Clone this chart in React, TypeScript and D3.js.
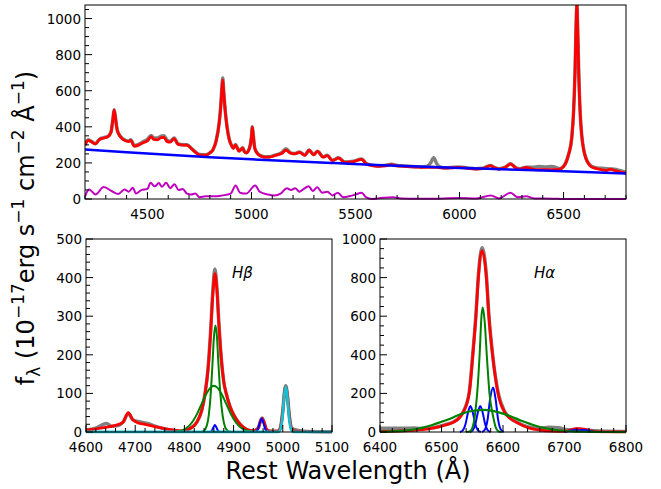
import React from 'react';
import * as d3 from 'd3';

type Pt = [number, number];

// ---- top panel: full spectrum (wavelength, flux) ----
const topObs: Pt[] = [
  [4200, 300], [4215, 328], [4230, 320], [4250, 306], [4270, 332], [4290, 340], [4310, 347], [4325, 372],
  [4335, 452], [4340, 495], [4345, 462], [4355, 382], [4370, 348], [4390, 328], [4410, 322], [4420, 328],
  [4437, 296], [4460, 304], [4480, 318], [4500, 330], [4518, 352], [4530, 338], [4548, 338], [4565, 348],
  [4579, 350], [4595, 325], [4609, 320], [4629, 338], [4645, 308], [4660, 302], [4690, 300], [4720, 272],
  [4750, 246], [4780, 244], [4800, 256], [4815, 273], [4830, 322], [4845, 425], [4852, 512], [4858, 620],
  [4862, 670], [4866, 606], [4874, 490], [4883, 398], [4893, 332], [4905, 296], [4913, 282], [4923, 302],
  [4932, 284], [4940, 266], [4950, 276], [4958, 284], [4966, 263], [4975, 256], [4990, 281], [5000, 346],
  [5004, 400], [5008, 362], [5016, 282], [5030, 252], [5044, 240], [5065, 234], [5085, 234], [5105, 240],
  [5125, 247], [5145, 256], [5166, 278], [5186, 258], [5206, 252], [5231, 260], [5257, 244], [5277, 272],
  [5298, 247], [5318, 265], [5344, 234], [5364, 242], [5389, 215], [5419, 228], [5449, 205], [5490, 209],
  [5530, 222], [5551, 197], [5580, 187], [5611, 183], [5640, 186], [5672, 192], [5700, 186], [5733, 183],
  [5770, 180], [5814, 178], [5840, 180], [5860, 198], [5876, 228], [5890, 196], [5910, 176], [5935, 173],
  [5965, 175], [5996, 177], [6040, 172], [6077, 168], [6110, 170], [6148, 186], [6170, 174], [6189, 168],
  [6220, 177], [6245, 195], [6270, 174], [6290, 168], [6320, 176], [6350, 176], [6381, 180], [6410, 178],
  [6442, 180], [6465, 174], [6482, 168], [6500, 182], [6512, 205], [6525, 252], [6539, 338], [6548, 485],
  [6555, 705], [6560, 955], [6564, 1080], [6568, 935], [6573, 698], [6580, 474], [6587, 357], [6597, 272],
  [6608, 225], [6620, 198], [6634, 181], [6660, 172], [6685, 170], [6705, 168], [6725, 166], [6745, 165],
  [6770, 158], [6800, 148],
];

const topModel: Pt[] = [
  [4200, 298], [4215, 325], [4230, 318], [4250, 305], [4270, 330], [4290, 338], [4310, 345], [4325, 370],
  [4335, 450], [4340, 492], [4345, 460], [4355, 380], [4370, 345], [4390, 325], [4410, 318], [4420, 325],
  [4437, 292], [4460, 300], [4480, 312], [4500, 322], [4518, 345], [4530, 330], [4548, 328], [4565, 340],
  [4579, 342], [4595, 318], [4609, 315], [4629, 335], [4645, 305], [4660, 300], [4690, 298], [4720, 270],
  [4750, 245], [4780, 243], [4800, 255], [4815, 272], [4830, 320], [4845, 420], [4852, 505], [4858, 610],
  [4862, 660], [4866, 600], [4874, 486], [4883, 395], [4893, 330], [4905, 295], [4913, 280], [4923, 300],
  [4932, 282], [4940, 265], [4950, 275], [4958, 282], [4966, 262], [4975, 255], [4990, 280], [5000, 345],
  [5004, 398], [5008, 360], [5016, 280], [5030, 250], [5044, 238], [5065, 232], [5085, 232], [5105, 238],
  [5125, 245], [5145, 252], [5166, 270], [5186, 255], [5206, 250], [5231, 258], [5257, 242], [5277, 270],
  [5298, 245], [5318, 264], [5344, 232], [5364, 240], [5389, 213], [5419, 226], [5449, 203], [5490, 207],
  [5530, 220], [5551, 195], [5580, 185], [5611, 181], [5640, 183], [5672, 190], [5700, 183], [5733, 181],
  [5770, 178], [5814, 176], [5840, 175], [5860, 176], [5876, 176], [5890, 175], [5910, 173], [5935, 171],
  [5965, 173], [5996, 175], [6040, 170], [6077, 166], [6110, 168], [6148, 185], [6170, 172], [6189, 166],
  [6220, 175], [6245, 194], [6270, 172], [6290, 166], [6320, 175], [6350, 166], [6381, 162], [6410, 163],
  [6442, 162], [6465, 163], [6482, 166], [6500, 180], [6512, 203], [6525, 250], [6539, 335], [6548, 480],
  [6555, 700], [6560, 950], [6564, 1078], [6568, 930], [6573, 693], [6580, 470], [6587, 354], [6597, 270],
  [6608, 222], [6620, 195], [6634, 178], [6660, 168], [6685, 162], [6705, 158], [6725, 165], [6745, 158],
  [6770, 150], [6800, 143],
];

const topCont: Pt[] = [
  [4200, 275], [4400, 259], [4600, 245], [4800, 232], [5000, 220], [5200, 209], [5400, 199],
  [5600, 189], [5800, 180], [6000, 172], [6200, 165], [6400, 158], [6600, 150], [6800, 141],
];

const topFe: Pt[] = [
  [4200, 15], [4220, 53], [4250, 25], [4290, 66], [4330, 43], [4360, 28], [4390, 53], [4410, 40],
  [4430, 62], [4445, 30], [4470, 49], [4500, 56], [4515, 90], [4535, 70], [4555, 88], [4570, 68],
  [4590, 90], [4610, 60], [4630, 82], [4650, 50], [4670, 55], [4690, 30], [4710, 25], [4730, 30],
  [4750, 10], [4780, 15], [4820, 15], [4860, 20], [4900, 30], [4924, 75], [4945, 35], [4975, 30],
  [5018, 75], [5040, 40], [5080, 25], [5110, 20], [5140, 30], [5170, 60], [5190, 50], [5210, 60],
  [5230, 40], [5250, 55], [5275, 70], [5295, 45], [5316, 65], [5340, 35], [5365, 40], [5390, 20],
  [5415, 35], [5440, 10], [5470, 15], [5500, 25], [5530, 35], [5550, 10], [5580, 0], [5620, 5],
  [5680, 10], [5720, 3], [5800, 2], [5900, 2], [6000, 5], [6080, 3], [6150, 20], [6190, 3],
  [6245, 35], [6280, 10], [6320, 15], [6360, 3], [6450, 2], [6500, 0], [6800, 0],
];

// ---- H-beta panel ----
const hbObs: Pt[] = [
  [4600, 5], [4620, 10], [4632, 18], [4642, 22], [4652, 15], [4665, 17], [4675, 25], [4686, 48],
  [4695, 32], [4710, 26], [4725, 22], [4740, 15], [4760, 8], [4780, 4], [4795, 2], [4805, 5],
  [4815, 12], [4825, 25], [4835, 55], [4842, 100], [4848, 165], [4853, 255], [4858, 370], [4862, 422],
  [4866, 375], [4870, 285], [4875, 190], [4880, 130], [4886, 95], [4893, 65], [4900, 45], [4910, 25],
  [4920, 12], [4930, 5], [4940, 3], [4950, 10], [4955, 30], [4958, 36], [4962, 25], [4967, 6],
  [4975, 2], [4990, 2], [4995, 10], [5000, 55], [5004, 110], [5006, 120], [5009, 100], [5013, 45],
  [5018, 10], [5025, 6], [5035, 3], [5050, 1], [5100, 0],
];
const hbModel: Pt[] = [
  [4600, 5], [4620, 8], [4640, 12], [4660, 17], [4675, 25], [4686, 50], [4695, 32], [4705, 24],
  [4720, 20], [4740, 14], [4760, 9], [4780, 5], [4795, 3], [4805, 5], [4815, 12], [4825, 25],
  [4835, 55], [4842, 100], [4848, 160], [4853, 250], [4858, 360], [4862, 410], [4866, 370], [4870, 280],
  [4875, 190], [4880, 130], [4886, 95], [4893, 65], [4900, 45], [4910, 25], [4920, 12], [4930, 5],
  [4940, 3], [4950, 10], [4955, 30], [4958, 35], [4962, 25], [4967, 6], [4975, 2], [4990, 2],
  [4995, 10], [5000, 55], [5004, 108], [5006, 118], [5009, 100], [5013, 45], [5018, 8], [5025, 2],
  [5050, 1], [5100, 0],
];
const hbNarrow: Pt[] = [
  [4836, 0], [4842, 6], [4848, 30], [4853, 90], [4857, 175], [4860, 245], [4863, 276], [4866, 250],
  [4869, 180], [4873, 100], [4878, 40], [4883, 12], [4889, 2], [4895, 0],
];
const hbBroad: Pt[] = [
  [4780, 1], [4795, 4], [4805, 11], [4815, 24], [4825, 45], [4835, 73], [4845, 100], [4853, 115],
  [4860, 120], [4867, 115], [4875, 100], [4885, 73], [4895, 45], [4905, 24], [4915, 11], [4925, 4],
  [4940, 1], [4955, 0],
];
const hbNarrowBlue: Pt[] = [[4852, 0], [4856, 4], [4859, 12], [4862, 18], [4865, 12], [4868, 4], [4872, 0]];
const oiii4959: Pt[] = [[4945, 0], [4949, 6], [4953, 22], [4957, 35], [4961, 22], [4965, 6], [4969, 0]];
const oiii5007: Pt[] = [
  [4600, 0], [4990, 0], [4995, 6], [4999, 35], [5003, 95], [5006, 118], [5009, 95], [5013, 35],
  [5017, 6], [5022, 0], [5100, 0],
];

// ---- H-alpha panel ----
const haObs: Pt[] = [
  [6400, 20], [6420, 20], [6440, 19], [6455, 21], [6465, 18], [6486, 22], [6505, 37], [6519, 52],
  [6528, 72], [6535, 103], [6545, 205], [6551, 410], [6556, 610], [6560, 815], [6566, 955], [6573, 810],
  [6577, 610], [6583, 405], [6592, 205], [6603, 105], [6612, 72], [6622, 52], [6643, 25], [6660, 20],
  [6675, 25], [6690, 22], [6705, 12], [6720, 15], [6735, 10], [6750, 6], [6770, 4], [6800, 3],
];
const haModel: Pt[] = [
  [6400, 3], [6430, 5], [6460, 10], [6486, 20], [6505, 35], [6519, 50], [6528, 70], [6535, 100],
  [6545, 200], [6551, 400], [6556, 600], [6560, 800], [6566, 940], [6573, 800], [6577, 600], [6583, 400],
  [6592, 200], [6603, 100], [6612, 70], [6622, 50], [6643, 20], [6660, 10], [6680, 5], [6700, 4],
  [6710, 10], [6720, 17], [6728, 16], [6736, 12], [6745, 4], [6760, 1], [6800, 0],
];
const haNarrow: Pt[] = [
  [6540, 0], [6546, 3], [6550, 20], [6554, 80], [6558, 200], [6562, 400], [6565, 600], [6567, 645],
  [6570, 580], [6574, 380], [6578, 200], [6584, 80], [6588, 25], [6592, 5], [6598, 0],
];
const haBroad: Pt[] = [
  [6400, 1], [6420, 3], [6440, 7], [6455, 13], [6470, 23], [6485, 36], [6500, 53], [6515, 70],
  [6530, 91], [6545, 106], [6567, 115], [6585, 108], [6600, 95], [6615, 78], [6630, 58], [6645, 41],
  [6660, 26], [6675, 16], [6690, 9], [6705, 4], [6720, 2], [6740, 1], [6760, 0], [6800, 0],
];
const nii6548: Pt[] = [[6530, 0], [6535, 10], [6539, 40], [6543, 100], [6547, 135], [6551, 100], [6555, 40], [6559, 10], [6564, 0]];
const haNarrowBlue: Pt[] = [[6546, 0], [6551, 10], [6555, 40], [6559, 100], [6563, 135], [6567, 100], [6571, 40], [6575, 10], [6580, 0]];
const nii6583: Pt[] = [[6566, 0], [6571, 15], [6575, 65], [6579, 170], [6584, 230], [6588, 170], [6592, 65], [6596, 15], [6601, 0]];
const sii: Pt[] = [[6700, 0], [6712, 8], [6718, 12], [6724, 8], [6728, 10], [6734, 11], [6740, 6], [6750, 0]];

// ticks
const topXTicks = [4500, 5000, 5500, 6000, 6500];
const topYTicks = [0, 200, 400, 600, 800, 1000];
const hbXTicks = [4600, 4700, 4800, 4900, 5000, 5100];
const hbYTicks = [0, 100, 200, 300, 400, 500];
const haXTicks = [6400, 6500, 6600, 6700, 6800];
const haYTicks = [0, 200, 400, 600, 800, 1000];

interface Series { data: Pt[]; color: string; width: number }

interface PanelProps {
  id: string;
  box: [number, number, number, number]; // left, top, right, bottom
  xDomain: [number, number];
  yDomain: [number, number];
  xTicks: number[];
  yTicks: number[];
  xMinor: number;
  yMinor: number;
  series: Series[];
  label?: string;
  labelPos?: [number, number];
}

const FONT = 'DejaVu Sans, sans-serif';

function Panel(p: PanelProps) {
  const [l, t, r, b] = p.box;
  const x = d3.scaleLinear().domain(p.xDomain).range([l, r]);
  const y = d3.scaleLinear().domain(p.yDomain).range([b, t]);
  const line = d3.line<Pt>().x(d => x(d[0])).y(d => y(d[1])).curve(d3.curveMonotoneX);
  const xm = d3.range(p.xDomain[0], p.xDomain[1] + 1e-6, p.xMinor).filter(v => !p.xTicks.includes(v));
  const ym = d3.range(p.yDomain[0], p.yDomain[1] + 1e-6, p.yMinor).filter(v => !p.yTicks.includes(v));
  return (
    <g>
      <defs>
        <clipPath id={p.id}>
          <rect x={l} y={t} width={r - l} height={b - t + 1.5} />
        </clipPath>
      </defs>
      <g clipPath={`url(#${p.id})`}>
        {p.series.map((s, i) => (
          <path key={i} d={line(s.data) || ''} fill="none" stroke={s.color} strokeWidth={s.width} strokeLinejoin="round" />
        ))}
      </g>
      {p.xTicks.map(v => (
        <g key={'xt' + v}>
          <line x1={x(v)} x2={x(v)} y1={b} y2={b - 7} stroke="#000" />
          <text x={x(v)} y={b + 20} textAnchor="middle" fontSize={13.5} fontFamily={FONT}>{v}</text>
        </g>
      ))}
      {xm.map(v => <line key={'xm' + v} x1={x(v)} x2={x(v)} y1={b} y2={b - 4} stroke="#000" />)}
      {p.yTicks.map(v => (
        <g key={'yt' + v}>
          <line x1={l} x2={l + 7} y1={y(v)} y2={y(v)} stroke="#000" />
          <text x={l - 4} y={y(v) + 5} textAnchor="end" fontSize={13.5} fontFamily={FONT}>{v}</text>
        </g>
      ))}
      {ym.map(v => <line key={'ym' + v} x1={l} x2={l + 4} y1={y(v)} y2={y(v)} stroke="#000" />)}
      <rect x={l} y={t} width={r - l} height={b - t} fill="none" stroke="#000" strokeWidth={1} />
      {p.label && p.labelPos && (
        <text x={p.labelPos[0]} y={p.labelPos[1]} fontSize={15} fontStyle="italic" fontFamily={FONT}>{p.label}</text>
      )}
    </g>
  );
}

export default function App() {
  return (
    <svg width={661} height={489} style={{ position: 'absolute', left: 0, top: 0, background: '#fff' }}>
      <Panel
        id="c-top" box={[85, 5, 626, 199]} xDomain={[4200, 6800]} yDomain={[0, 1075]}
        xTicks={topXTicks} yTicks={topYTicks} xMinor={100} yMinor={50}
        series={[
          { data: topObs, color: '#808080', width: 3.5 },
          { data: topModel, color: '#ff0000', width: 2.8 },
          { data: topCont, color: '#0000ff', width: 2.5 },
          { data: topFe, color: '#c000c0', width: 2 },
        ]}
      />
      <Panel
        id="c-hb" box={[86, 239, 332, 432]} xDomain={[4600, 5100]} yDomain={[0, 500]}
        xTicks={hbXTicks} yTicks={hbYTicks} xMinor={20} yMinor={20}
        label="Hβ" labelPos={[232, 278]}
        series={[
          { data: hbObs, color: '#808080', width: 3.5 },
          { data: hbModel, color: '#ff0000', width: 2.8 },
          { data: hbBroad, color: '#008000', width: 2 },
          { data: hbNarrow, color: '#008000', width: 2 },
          { data: hbNarrowBlue, color: '#0000ff', width: 2 },
          { data: oiii4959, color: '#0000ff', width: 2 },
          { data: oiii5007, color: '#17becf', width: 2.8 },
        ]}
      />
      <Panel
        id="c-ha" box={[380, 239, 626, 432]} xDomain={[6400, 6800]} yDomain={[0, 1000]}
        xTicks={haXTicks} yTicks={haYTicks} xMinor={20} yMinor={50}
        label="Hα" labelPos={[534, 278]}
        series={[
          { data: haObs, color: '#808080', width: 3.5 },
          { data: haModel, color: '#ff0000', width: 2.8 },
          { data: sii, color: '#0000ff', width: 2 },
          { data: nii6548, color: '#0000ff', width: 2 },
          { data: haNarrowBlue, color: '#0000ff', width: 2 },
          { data: nii6583, color: '#0000ff', width: 2 },
          { data: haNarrow, color: '#008000', width: 2 },
          { data: haBroad, color: '#008000', width: 2.2 },
        ]}
      />
      <text x={348} y={479} textAnchor="middle" fontSize={24} fontFamily={FONT}>Rest Wavelength (Å)</text>
      <text transform="translate(34,228) rotate(-90)" textAnchor="middle" fontSize={24} fontFamily={FONT}>
        f<tspan fontSize={17} dy={6}>λ</tspan>
        <tspan dy={-6}> (10</tspan>
        <tspan fontSize={17} dy={-10}>−17</tspan>
        <tspan dy={10}>erg s</tspan>
        <tspan fontSize={17} dy={-10}>−1</tspan>
        <tspan dy={10}> cm</tspan>
        <tspan fontSize={17} dy={-10}>−2</tspan>
        <tspan dy={10}> Å</tspan>
        <tspan fontSize={17} dy={-10}>−1</tspan>
        <tspan dy={10}>)</tspan>
      </text>
    </svg>
  );
}
